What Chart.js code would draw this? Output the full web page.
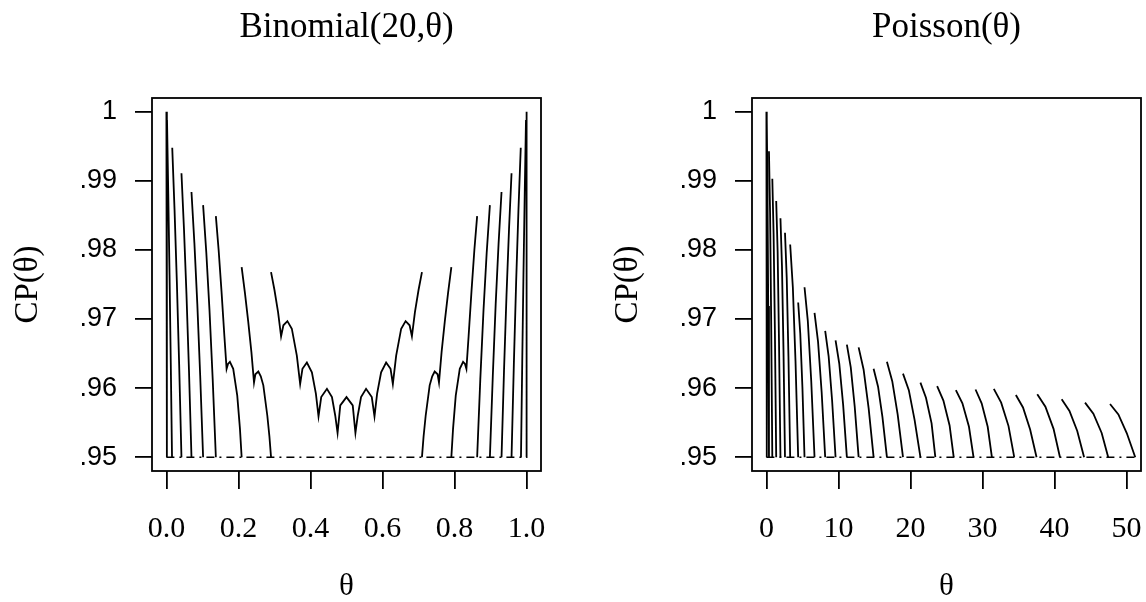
<!DOCTYPE html>
<html>
<head>
<meta charset="utf-8">
<script src="https://cdn.jsdelivr.net/npm/chart.js@4.4.1/dist/chart.umd.min.js"></script>
<style>
    html, body { margin: 0; padding: 0; background: #fff; }
    #wrap { position: relative; width: 1146px; height: 602px; }
    .panel { position: absolute; top: 0; width: 546px; height: 602px; }
</style>
</head>
<body>
<div id="wrap">
    <div class="panel" style="left:0"><canvas id="binomChart" width="546" height="602"></canvas></div>
    <div class="panel" style="left:600px"><canvas id="poisChart" width="546" height="602"></canvas></div>
</div>
<script>
// Y axis (shared)
const yTicks = [0.95, 0.96, 0.97, 0.98, 0.99, 1];
const yTickLabels = [".95", ".96", ".97", ".98", ".99", "1"];

// Binomial(20, theta) coverage, pieces split by null
const binomTheta = [
    0, 0.0013, null,
    0.0017, 0.0052, 0.0087, 0.0121, 0.0156, null,
    0.0162, 0.0226, 0.029, 0.0354, 0.0418, null,
    0.0418, 0.0488, 0.0557, 0.0627, 0.0696, null,
    0.0696, 0.0777, 0.0858, 0.0938, 0.1019, null,
    0.1019, 0.1108, 0.1196, 0.1285, 0.1373, null,
    0.1373, 0.145, 0.153, 0.161, 0.1671, 0.171, 0.1763, 0.1855, 0.1967, 0.2042, 0.2089, null,
    0.2089, 0.218, 0.227, 0.236, 0.2432, 0.247, 0.2552, 0.262, 0.2691, 0.2802, 0.286, 0.2905, null,
    0.2905, 0.3, 0.31, 0.3184, 0.3248, 0.3359, 0.3482, 0.3621, 0.3713, 0.3777, 0.39, 0.4039, 0.415, 0.4223,
    0.4298, 0.4457, 0.4596, 0.4688, 0.4752, 0.4827, 0.5, 0.5173, 0.5248, 0.5312, 0.5404, 0.5543, 0.5702,
    0.5777, 0.585, 0.5961, 0.61, 0.6223, 0.6287, 0.6379, 0.6518, 0.6641, 0.6752, 0.6816, 0.69, 0.7, 0.7095, null,
    0.7095, 0.714, 0.7198, 0.7309, 0.738, 0.7448, 0.753, 0.7568, 0.764, 0.773, 0.782, 0.7911, null,
    0.7911, 0.7958, 0.8033, 0.8145, 0.8237, 0.829, 0.8329, 0.839, 0.847, 0.855, 0.8627, null,
    0.8627, 0.8715, 0.8804, 0.8892, 0.8981, null,
    0.8981, 0.9062, 0.9142, 0.9223, 0.9304, null,
    0.9304, 0.9373, 0.9443, 0.9512, 0.9582, null,
    0.9582, 0.9646, 0.971, 0.9774, 0.9838, null,
    0.9844, 0.9879, 0.9913, 0.9948, 0.9983, null,
    0.9987, 1,
];
const binomCP = [
    1, 0.95, null,
    0.9988, 0.9881, 0.9764, 0.9637, 0.95, null,
    0.9948, 0.9858, 0.9754, 0.9634, 0.95, null,
    0.9911, 0.983, 0.9736, 0.9625, 0.95, null,
    0.9884, 0.981, 0.9722, 0.9618, 0.95, null,
    0.9865, 0.9796, 0.9713, 0.9613, 0.95, null,
    0.9849, 0.98, 0.974, 0.9675, 0.9628, 0.9635, 0.9638, 0.9628, 0.9589, 0.9541, 0.95, null,
    0.9775, 0.9738, 0.9697, 0.9652, 0.9608, 0.962, 0.9624, 0.9617, 0.9604, 0.956, 0.953, 0.95, null,
    0.9768, 0.9742, 0.971, 0.9675, 0.9691, 0.9697, 0.9686, 0.9647, 0.9606, 0.9628, 0.9637, 0.9623, 0.9592, 0.9559,
    0.9587, 0.9599, 0.9587, 0.956, 0.9535, 0.9575, 0.9587, 0.9575, 0.9535, 0.956, 0.9587, 0.9599, 0.9587,
    0.9559, 0.9592, 0.9623, 0.9637, 0.9628, 0.9606, 0.9647, 0.9686, 0.9697, 0.9691, 0.9675, 0.971, 0.9742, 0.9768, null,
    0.95, 0.953, 0.956, 0.9604, 0.9617, 0.9624, 0.962, 0.9608, 0.9652, 0.9697, 0.9738, 0.9775, null,
    0.95, 0.9541, 0.9589, 0.9628, 0.9638, 0.9635, 0.9628, 0.9675, 0.974, 0.98, 0.9849, null,
    0.95, 0.9613, 0.9713, 0.9796, 0.9865, null,
    0.95, 0.9618, 0.9722, 0.981, 0.9884, null,
    0.95, 0.9625, 0.9736, 0.983, 0.9911, null,
    0.95, 0.9634, 0.9754, 0.9858, 0.9948, null,
    0.95, 0.9637, 0.9764, 0.9881, 0.9988, null,
    0.95, 1,
];
const binomRefTheta = [0, 1];
const binomXTicks = [0, 0.2, 0.4, 0.6, 0.8, 1];
const binomXLabels = ["0.0", "0.2", "0.4", "0.6", "0.8", "1.0"];

// Poisson(theta) coverage, pieces split by null
const poisTheta = [
    0, 0.05, null,
    0.05, 0.15, 0.25, 0.355, null,
    0.355, 0.51, 0.66, 0.82, null,
    0.82, 1.0, 1.18, 1.36, null,
    1.36, 1.56, 1.75, 1.95, null,
    1.95, 2.16, 2.37, 2.58, null,
    2.58, 2.82, 3.06, 3.3, null,
    3.3, 3.67, 4.04, 4.41, null,
    4.41, 4.7, 5.0, 5.29, null,
    5.29, 5.75, 6.22, 6.68, null,
    6.68, 7.17, 7.67, 8.16, null,
    8.16, 8.64, 9.12, 9.6, null,
    9.6, 10.12, 10.65, 11.17, null,
    11.17, 11.71, 12.26, 12.8, null,
    12.8, 13.49, 14.19, 14.88, null,
    14.88, 15.5, 16.11, 16.73, null,
    16.73, 17.47, 18.22, 18.96, null,
    18.96, 19.77, 20.57, 21.38, null,
    21.38, 22.15, 22.93, 23.45, null,
    23.7, 24.57, 25.43, 26.0, null,
    26.3, 27.21, 28.12, 28.75, null,
    29.03, 29.88, 30.72, 31.3, null,
    31.57, 32.59, 33.61, 34.4, null,
    34.63, 35.62, 36.61, 37.5, null,
    37.6, 38.73, 39.86, 40.75, null,
    40.99, 42.07, 43.15, 44.1, null,
    44.23, 45.39, 46.54, 47.45, null,
    47.7, 48.86, 50.02, 51.2,
];
const poisCP = [
    1, 0.95, null,
    0.9987, 0.989, 0.9719, 0.95, null,
    0.9943, 0.9854, 0.9699, 0.95, null,
    0.9903, 0.9822, 0.9681, 0.95, null,
    0.9871, 0.9797, 0.9667, 0.95, null,
    0.9846, 0.9777, 0.9656, 0.95, null,
    0.9825, 0.976, 0.9646, 0.95, null,
    0.9808, 0.9746, 0.9639, 0.95, null,
    0.9724, 0.9679, 0.9601, 0.95, null,
    0.9746, 0.9697, 0.9611, 0.95, null,
    0.9709, 0.9667, 0.9594, 0.95, null,
    0.9683, 0.9646, 0.9582, 0.95, null,
    0.9669, 0.9635, 0.9576, 0.95, null,
    0.9663, 0.963, 0.9573, 0.95, null,
    0.9659, 0.9627, 0.9571, 0.95, null,
    0.9628, 0.9602, 0.9558, 0.95, null,
    0.9638, 0.961, 0.9562, 0.95, null,
    0.9621, 0.9597, 0.9554, 0.95, null,
    0.9608, 0.9586, 0.9549, 0.95, null,
    0.9603, 0.9582, 0.9546, 0.95, null,
    0.9597, 0.9578, 0.9544, 0.95, null,
    0.9598, 0.9578, 0.9544, 0.95, null,
    0.9599, 0.9579, 0.9545, 0.95, null,
    0.959, 0.9572, 0.954, 0.95, null,
    0.9591, 0.9573, 0.9541, 0.95, null,
    0.9584, 0.9567, 0.9538, 0.95, null,
    0.9579, 0.9563, 0.9535, 0.95, null,
    0.9577, 0.9562, 0.9535, 0.95,
];
const poisRefTheta = [0, 51.5];
const poisXTicks = [0, 10, 20, 30, 40, 50];
const poisXLabels = ["0", "10", "20", "30", "40", "50"];

const refCP = [0.95, 0.95];

// Helper
const ctx = (id) => document.getElementById(id).getContext("2d");
const toPoints = (xs, ys) => xs.map((x, i) => ({ x: x, y: ys[i] }));

const serif = "'Liberation Serif', 'Times New Roman', serif";
const sans = "'Liberation Sans', Arial, sans-serif";

// draw the full box round the plot region
const boxPlugin = {
    id: "box",
    afterDraw(chart) {
        const a = chart.chartArea;
        const c = chart.ctx;
        c.save();
        c.strokeStyle = "#000";
        c.lineWidth = 1.8;
        c.strokeRect(a.left, a.top, a.right - a.left, a.bottom - a.top);
        c.restore();
    },
};

function makeChart(id, title, xs, ys, refXs, xMin, xMax, xTicks, xLabels) {
    return new Chart(ctx(id), {
        type: "line",
        data: {
            datasets: [
                {
                    data: toPoints(refXs, refCP),
                    borderColor: "#000",
                    borderWidth: 1.5,
                    borderDash: [8, 5, 2, 5],
                    pointRadius: 0,
                },
                {
                    data: toPoints(xs, ys),
                    borderColor: "#000",
                    borderWidth: 1.8,
                    pointRadius: 0,
                    spanGaps: false,
                    tension: 0,
                },
            ],
        },
        options: {
            responsive: false,
            animation: false,
            layout: { padding: { top: 0, right: 5, bottom: 0, left: 0 } },
            plugins: {
                legend: { display: false },
                tooltip: { enabled: false },
                title: {
                    display: true,
                    text: title,
                    fullSize: false,
                    color: "#000",
                    font: { family: serif, size: 35, weight: "normal", lineHeight: 1.2 },
                    padding: { top: 6.5, bottom: 49.5 },
                },
            },
            scales: {
                x: {
                    type: "linear",
                    min: xMin,
                    max: xMax,
                    afterBuildTicks: (s) => { s.ticks = xTicks.map((v) => ({ value: v })); },
                    afterFit: (s) => { s.height = 131; s.paddingLeft = 0; s.paddingRight = 0; },
                    ticks: {
                        autoSkip: false,
                        maxRotation: 0,
                        color: "#000",
                        padding: 22,
                        font: { family: serif, size: 30 },
                        callback: (v, i) => xLabels[i],
                    },
                    grid: { drawOnChartArea: false, drawTicks: true, tickLength: 18, color: "#000", lineWidth: 1.8 },
                    border: { display: false },
                    title: {
                        display: true,
                        text: "θ",
                        color: "#000",
                        font: { family: serif, size: 31, lineHeight: 1 },
                        padding: { top: 0, bottom: 0 },
                    },
                },
                y: {
                    type: "linear",
                    min: 0.948,
                    max: 1.002,
                    afterBuildTicks: (s) => { s.ticks = yTicks.map((v) => ({ value: v })); },
                    afterFit: (s) => { s.width = 152; },
                    ticks: {
                        autoSkip: false,
                        color: "#000",
                        padding: 18,
                        font: { family: sans, size: 27 },
                        callback: (v, i) => yTickLabels[i],
                    },
                    grid: { drawOnChartArea: false, drawTicks: true, tickLength: 17, color: "#000", lineWidth: 1.8 },
                    border: { display: false },
                    title: {
                        display: true,
                        text: "CP(θ)",
                        color: "#000",
                        font: { family: serif, size: 33, lineHeight: 1 },
                        padding: { top: 11.5, bottom: 0 },
                    },
                },
            },
        },
        plugins: [boxPlugin],
    });
}

const binomChart = makeChart("binomChart", "Binomial(20,θ)", binomTheta, binomCP, binomRefTheta,
    -0.04, 1.04, binomXTicks, binomXLabels);
const poisChart = makeChart("poisChart", "Poisson(θ)", poisTheta, poisCP, poisRefTheta,
    -2, 52, poisXTicks, poisXLabels);
</script>
</body>
</html>
